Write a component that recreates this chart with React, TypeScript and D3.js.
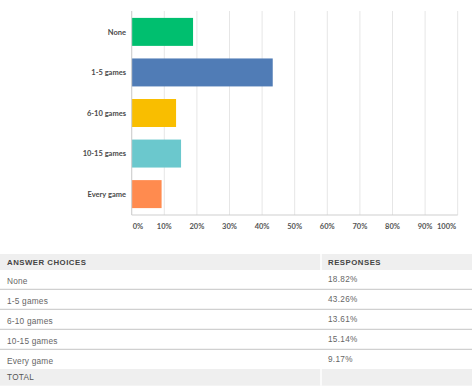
import React from "react";
import * as d3 from "d3";

const categories = ["None", "1-5 games", "6-10 games", "10-15 games", "Every game"];
const values = [18.82, 43.26, 13.61, 15.14, 9.17];
const responseLabels = ["18.82%", "43.26%", "13.61%", "15.14%", "9.17%"];
const barColors = ["#00BF6F", "#507CB6", "#F9BE00", "#6BC8CD", "#FF8B4F"];
const ticks = [0, 10, 20, 30, 40, 50, 60, 70, 80, 90, 100];

const W = 472;
const H = 392;

export default function App() {
  const x = d3.scaleLinear().domain([0, 100]).range([131.7, 457.7]);
  const y = d3
    .scaleBand<string>()
    .domain(categories)
    .range([11, 215])
    .paddingInner(0.31)
    .paddingOuter(0.17);
  const top = 11;
  const bottom = 215;

  const tableTop = 254;
  const headerH = 16;
  const rowH = 20;
  const colX = 321;
  const rowsTop = tableTop + headerH;
  const totalTop = rowsTop + rowH * categories.length - 1;

  const chartFont = "Lato, 'Open Sans', sans-serif";
  const tableFont = "'Liberation Sans', Arial, sans-serif";

  return (
    <svg
      width={W}
      height={H}
      style={{ position: "absolute", left: 0, top: 0, background: "#fff" }}
    >
      {ticks.map((t) => (
        <line
          key={"g" + t}
          x1={x(t)}
          x2={x(t)}
          y1={top}
          y2={bottom}
          stroke="#e6e6e6"
          strokeWidth={1}
        />
      ))}
      {categories.map((c, i) => (
        <rect
          key={c}
          x={x(0)}
          y={y(c)}
          width={x(values[i]) - x(0)}
          height={y.bandwidth()}
          fill={barColors[i]}
        />
      ))}
      <line x1={x(0)} x2={x(0)} y1={top} y2={bottom} stroke="#cfcfcf" strokeWidth={1} />
      <line x1={x(0)} x2={x(100)} y1={bottom} y2={bottom} stroke="#cfcfcf" strokeWidth={1} />
      {categories.map((c) => (
        <text
          key={"l" + c}
          x={126}
          y={(y(c) as number) + y.bandwidth() / 2}
          dy="0.35em"
          textAnchor="end"
          fontFamily={chartFont}
          fontWeight={700}
          fontSize={7.5}
          fill="#4a4a4a"
        >
          {c}
        </text>
      ))}
      {ticks.map((t, i) => (
        <text
          key={"t" + t}
          x={i === 0 ? x(t) + 1 : i === ticks.length - 1 ? x(t) - 1.5 : x(t)}
          y={226}
          dy="0.35em"
          textAnchor={i === 0 ? "start" : i === ticks.length - 1 ? "end" : "middle"}
          fontFamily={chartFont}
          fontWeight={700}
          fontSize={7.5}
          fill="#555"
        >
          {t + "%"}
        </text>
      ))}

      <rect x={0} y={tableTop} width={W} height={headerH} fill="#efefef" />
      <line x1={colX} x2={colX} y1={tableTop} y2={tableTop + headerH} stroke="#fff" strokeWidth={1.5} />
      <text
        x={7}
        y={tableTop + headerH / 2 + 0.3}
        dy="0.35em"
        fontFamily={tableFont}
        fontWeight={700}
        fontSize={7.8}
        letterSpacing={0.5}
        fill="#444"
      >
        ANSWER CHOICES
      </text>
      <text
        x={328}
        y={tableTop + headerH / 2 + 0.3}
        dy="0.35em"
        fontFamily={tableFont}
        fontWeight={700}
        fontSize={7.8}
        letterSpacing={0.5}
        fill="#444"
      >
        RESPONSES
      </text>

      {categories.map((c, i) => {
        const ry = rowsTop + i * rowH;
        return (
          <g key={"r" + c}>
            <text
              x={7}
              y={ry + 10.7}
              dy="0.35em"
              fontFamily={tableFont}
              fontSize={8.3}
              letterSpacing={0.2}
              fill="#666"
            >
              {c}
            </text>
            <text
              x={328}
              y={ry + 8.7}
              dy="0.35em"
              fontFamily={tableFont}
              fontSize={8.2}
              letterSpacing={0.3}
              fill="#666"
            >
              {responseLabels[i]}
            </text>
            {i < categories.length - 1 && (
              <line
                x1={0}
                x2={W}
                y1={ry + rowH - 0.7}
                y2={ry + rowH - 0.7}
                stroke="#d0d0d0"
                strokeWidth={1.2}
              />
            )}
          </g>
        );
      })}

      <rect x={0} y={totalTop} width={W} height={16.7} fill="#efefef" />
      <line x1={colX} x2={colX} y1={totalTop} y2={totalTop + 16.7} stroke="#fff" strokeWidth={1.5} />
      <text
        x={7}
        y={totalTop + 8}
        dy="0.35em"
        fontFamily={tableFont}
        fontSize={8.2}
        letterSpacing={0.3}
        fill="#555"
      >
        TOTAL
      </text>
    </svg>
  );
}
